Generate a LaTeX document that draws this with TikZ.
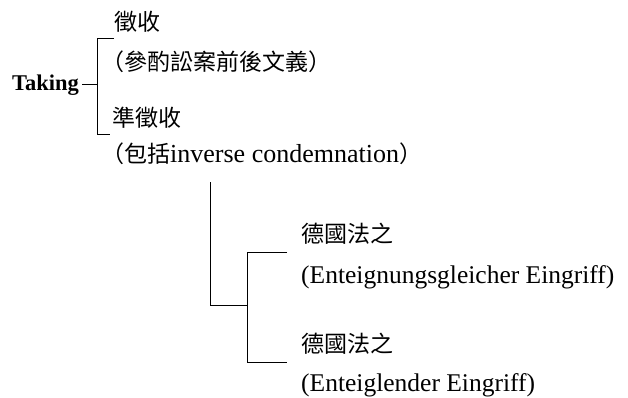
\documentclass[tikz,border=0pt]{standalone}
\usepackage{fontspec}
\usetikzlibrary{calc}
\setmainfont{Liberation Serif}
\newfontfamily\cjk{Noto Sans CJK TC}
\begin{document}
\begin{tikzpicture}[x=1pt,y=-1pt,
  zh/.style={anchor=west,inner sep=0pt,font=\cjk\fontsize{23}{23}\selectfont},
  lat/.style={anchor=west,inner sep=0pt,font=\fontsize{25.5}{25.5}\selectfont},
  conn/.style={line width=1pt,line cap=butt}]
\useasboundingbox[fill=white] (0,0) rectangle (628,398);

% labels
\node[anchor=base west,inner sep=0pt,font=\bfseries\fontsize{22.5}{22.5}\selectfont] (taking) at (12,91) {Taking};
\node[zh] (zhengshou) at (114,22) {徵收};
\node[zh] (canzhuo) at (101,62) {（參酌訟案前後文義）};
\node[zh] (zhunzheng) at (112,118) {準徵收};
\node[zh] (baokuo) at (101,154) {（包括{\rmfamily\fontsize{26}{26}\selectfont inverse condemnation}）};
\node[zh] (de1) at (301,234) {德國法之};
\node[lat] (eg1) at (301,277) {(Enteignungsgleicher Eingriff)};
\node[zh] (de2) at (301,344) {德國法之};
\node[lat] (eg2) at (301,385) {(Enteiglender Eingriff)};

% bracket for Taking
\coordinate (bx) at (97,85);
\coordinate (btop) at (97,39);
\coordinate (bbot) at (97,135);
\draw[conn] ($(taking.east |- bx)+(3,0)$) -- (bx);
\draw[conn] (btop -| zhengshou.west) -- (btop) -- (bbot) -- ($(bbot -| zhunzheng.west)+(-2,0)$);

% lower tree
\coordinate (v1top) at (210,182);
\coordinate (v1bot) at (210,305);
\coordinate (v2mid) at (247,305);
\coordinate (v2top) at (247,252);
\coordinate (v2bot) at (247,362);
\draw[conn] (v1top) -- (v1bot) -- (v2mid);
\draw[conn] ($(de1.west |- v2top)+(-14,0)$) -- (v2top) -- (v2bot) -- ($(de2.west |- v2bot)+(-14,0)$);
\end{tikzpicture}
\end{document}
